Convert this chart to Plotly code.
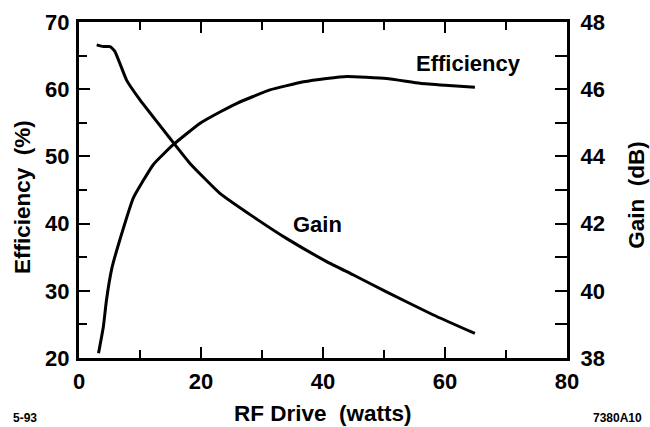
import plotly.graph_objects as go

# Efficiency curve (RF drive in watts, efficiency in %)
eff_drive = [3.2, 4.0, 4.5, 5.4, 6.7, 8.9, 12.2, 15.4, 19.8, 23.1, 25.9, 31.3,
             36.8, 40.6, 43.9, 50.4, 55.9, 60.0, 64.9]
eff_pct = [20.7, 24.7, 28.6, 33.4, 37.6, 43.8, 48.8, 51.7, 54.9, 56.6, 57.9, 59.9,
           61.1, 61.6, 61.9, 61.6, 60.9, 60.6, 60.3]

# Gain curve (RF drive in watts, gain in dB)
gain_drive = [2.9, 4.0, 5.1, 5.9, 7.8, 10.0, 14.9, 18.2, 23.1, 28.6, 34.0,
              40.6, 45.0, 50.4, 58.1, 64.9]
gain_db = [47.32, 47.27, 47.27, 47.12, 46.27, 45.68, 44.54, 43.79, 42.9,
           42.2, 41.56, 40.87, 40.47, 39.97, 39.28, 38.73]

x_range = [0, 80]
eff_range = [20, 70]
gain_range = [38, 48]

FONT = "Liberation Sans, Arial, Helvetica, sans-serif"
BLACK = "#000000"

fig = go.Figure()
fig.add_trace(go.Scatter(x=eff_drive, y=eff_pct, mode="lines", name="Efficiency",
                         line=dict(color=BLACK, width=3, shape="spline", smoothing=0.4),
                         yaxis="y"))
fig.add_trace(go.Scatter(x=gain_drive, y=gain_db, mode="lines", name="Gain",
                         line=dict(color=BLACK, width=3, shape="spline", smoothing=0.4),
                         yaxis="y2"))

tickfont = dict(family=FONT, size=22, color=BLACK, weight="bold")

fig.update_layout(
    width=650, height=427,
    margin=dict(l=79, r=83, t=22, b=69, autoexpand=False),
    paper_bgcolor="white", plot_bgcolor="white",
    showlegend=False,
    xaxis=dict(range=x_range, dtick=20, tick0=0, ticks="inside", ticklen=11, tickwidth=2,
               tickcolor=BLACK, showline=True, linewidth=3, linecolor=BLACK, mirror="ticks",
               showgrid=False, zeroline=False, tickfont=tickfont, ticklabelstandoff=2,
               automargin=False,
               minor=dict(dtick=10, ticks="inside", ticklen=8, tickwidth=2, tickcolor=BLACK,
                          showgrid=False)),
    yaxis=dict(range=eff_range, dtick=10, tick0=20, ticks="inside", ticklen=11, tickwidth=2,
               tickcolor=BLACK, showline=True, linewidth=3, linecolor=BLACK,
               showgrid=False, zeroline=False, tickfont=tickfont, ticklabelstandoff=2,
               automargin=False,
               minor=dict(dtick=5, ticks="inside", ticklen=8, tickwidth=2, tickcolor=BLACK,
                          showgrid=False)),
    yaxis2=dict(range=gain_range, dtick=2, tick0=38, ticks="inside", ticklen=12, tickwidth=2,
                tickcolor=BLACK, showline=True, linewidth=3, linecolor=BLACK,
                overlaying="y", side="right", showgrid=False, zeroline=False,
                tickfont=tickfont, ticklabelstandoff=6, automargin=False,
                minor=dict(dtick=1, ticks="inside", ticklen=12, tickwidth=2, tickcolor=BLACK,
                           showgrid=False)),
)

labfont = dict(family=FONT, size=22, color=BLACK, weight="bold")
titlefont = dict(family=FONT, size=22.5, color=BLACK, weight="bold")
smallfont = dict(family=FONT, size=12, color=BLACK, weight="bold")

def note(x, y, text, font, ref="paper", angle=0):
    fig.add_annotation(x=x, y=y, xref="x" if ref == "data" else "paper",
                       yref="y" if ref == "data" else "paper", text=text,
                       showarrow=False, font=font, textangle=angle,
                       xanchor="center", yanchor="middle")

note(63.8, 63.8, "Efficiency", labfont, ref="data")
note(39.1, 39.9, "Gain", labfont, ref="data")
note(0.5, -0.165, "RF Drive\u00a0\u00a0(watts)", titlefont)
note(-0.1168, 0.479, "Efficiency\u00a0\u00a0(%)", titlefont, angle=-90)
note(1.141, 0.485, "Gain\u00a0\u00a0(dB)", titlefont, angle=-90)
note(-0.111, -0.179, "5-93", smallfont)
note(1.1025, -0.179, "7380A10", smallfont)

fig.write_html("out.html", config={"displayModeBar": False},
               post_script="document.body.style.margin='0';document.body.style.overflow='hidden';")
